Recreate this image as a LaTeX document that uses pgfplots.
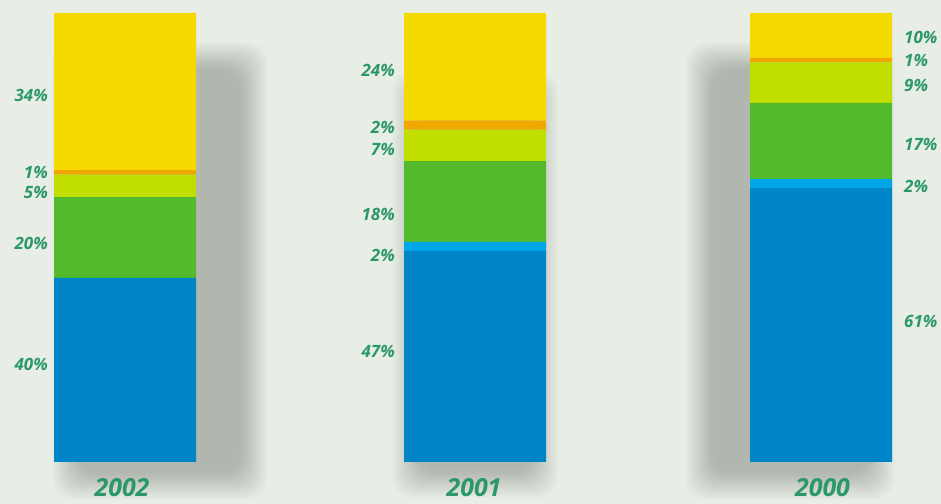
\documentclass[border=0pt]{standalone}
\usepackage{pgfplots}
\pgfplotsset{compat=1.18}
\usepackage{fontspec}
\setmainfont{Open Sans}
\definecolor{bg}{RGB}{232,237,230}
\definecolor{shadowc}{RGB}{120,126,118}
\definecolor{cdblue}{RGB}{0,133,200}
\definecolor{clblue}{RGB}{0,166,230}
\definecolor{cgreen}{RGB}{82,186,44}
\definecolor{clime}{RGB}{192,222,0}
\definecolor{corange}{RGB}{240,168,0}
\definecolor{cyellow}{RGB}{245,218,0}
\definecolor{lab}{RGB}{44,152,104}
\newcommand{\softshadow}[4]{% x1 ytop(px) x2 ybottom(px)
  \foreach \i in {0,...,29}{%
    \fill[shadowc,opacity=0.0175,rounded corners=20bp]
      ({#1+\i},{504-(#2)-\i}) rectangle ({#3-\i},{504-(#4)+\i});
  }%
}
\begin{document}
\begin{tikzpicture}[x=1bp,y=1bp]
\useasboundingbox (0,0) rectangle (941,504);
\fill[bg] (0,0) rectangle (941,504);
\softshadow{52}{42}{268}{500}
\softshadow{392}{70}{558}{498}
\softshadow{685}{42}{895}{500}
\begin{axis}[at={(0,0)},anchor=south west,
  scale only axis, width=941bp, height=504bp,
  xmin=0, xmax=941, ymin=-9.354, ymax=102.895,
  hide axis, clip=false,
  ybar stacked, bar width=142,
  every axis plot/.append style={draw=none}]
\addplot[fill=cdblue] coordinates {(125,41) (475,47) (821,61)};
\addplot[fill=clblue] coordinates {(125,0) (475,2) (821,2)};
\addplot[fill=cgreen] coordinates {(125,18) (475,18) (821,17)};
\addplot[fill=clime] coordinates {(125,5) (475,7) (821,9)};
\addplot[fill=corange] coordinates {(125,1) (475,2) (821,1)};
\addplot[fill=cyellow] coordinates {(125,35) (475,24) (821,10)};
\end{axis}
\begin{scope}[every node/.style={font=\fontsize{17}{17}\selectfont\bfseries\itshape, text=lab, inner sep=0pt}]
% 2002
\node[anchor=base east] at (48,{504-95-6.5}) {34\%};
\node[anchor=base east] at (48,{504-172-6.5}) {1\%};
\node[anchor=base east] at (48,{504-192-6.5}) {5\%};
\node[anchor=base east] at (48,{504-243.5-6.5}) {20\%};
\node[anchor=base east] at (48,{504-364.5-6.5}) {40\%};
% 2001
\node[anchor=base east] at (395,{504-70-6.5}) {24\%};
\node[anchor=base east] at (395,{504-127-6.5}) {2\%};
\node[anchor=base east] at (395,{504-149-6.5}) {7\%};
\node[anchor=base east] at (395,{504-214-6.5}) {18\%};
\node[anchor=base east] at (395,{504-255.5-6.5}) {2\%};
\node[anchor=base east] at (395,{504-351.5-6.5}) {47\%};
% 2000
\node[anchor=base west] at (904,{504-37-6.5}) {10\%};
\node[anchor=base west] at (904,{504-60.5-6.5}) {1\%};
\node[anchor=base west] at (904,{504-85.5-6.5}) {9\%};
\node[anchor=base west] at (904,{504-144-6.5}) {17\%};
\node[anchor=base west] at (904,{504-186.5-6.5}) {2\%};
\node[anchor=base west] at (904,{504-321.5-6.5}) {61\%};
\end{scope}
\begin{scope}[every node/.style={font=\fontsize{25}{25}\selectfont\bfseries\itshape, text=lab, inner sep=0pt, anchor=base}]
\node at (122,7) {2002};
\node at (474,7) {2001};
\node at (822.5,7) {2000};
\end{scope}
\end{tikzpicture}
\end{document}
